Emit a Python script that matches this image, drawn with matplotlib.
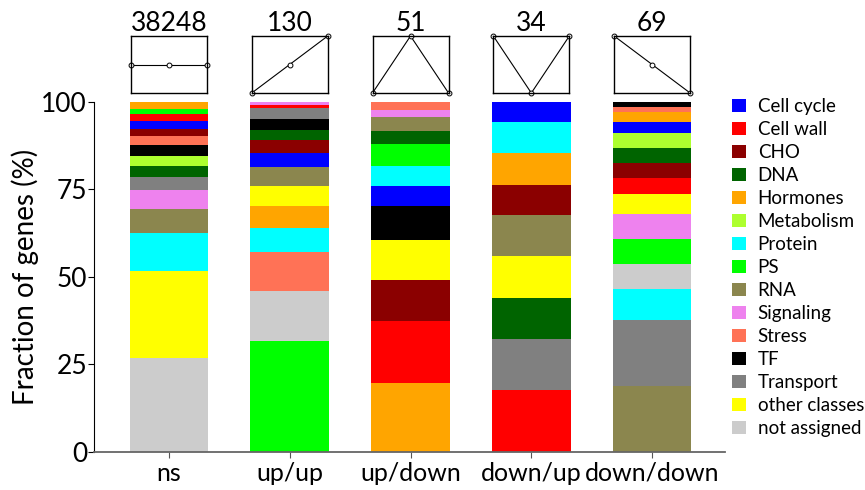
import numpy as np
import matplotlib
matplotlib.use("Agg")
import matplotlib.pyplot as plt
from matplotlib.patches import Patch

plt.rcParams['font.family'] = ['Lato', 'DejaVu Sans']

groups = ['ns', 'up/up', 'up/down', 'down/up', 'down/down']
counts = [38248, 130, 51, 34, 69]
# expression profile of each group (3 time points)
profiles = [[0.5, 0.5, 0.5], [0, 0.5, 1], [0, 1, 0], [1, 0, 1], [1, 0.5, 0]]

categories = ['Cell cycle', 'Cell wall', 'CHO', 'DNA', 'Hormones', 'Metabolism',
              'Protein', 'PS', 'RNA', 'Signaling', 'Stress', 'TF', 'Transport',
              'other classes', 'not assigned']
colors = ['#0000ff', '#ff0000', '#8b0000', '#006400', '#ffa500', '#adff2f',
          '#00ffff', '#00ff00', '#8b864e', '#ee82ee', '#ff7256', '#000000',
          '#808080', '#ffff00', '#cccccc']

# percent of genes, per group: ns, up/up, up/down, down/up, down/down
cell_cycle   = [2.3, 4.1, 5.7, 5.8, 3.1]
cell_wall    = [1.9, 0.6, 17.7, 17.6, 4.6]
cho          = [2.1, 3.6, 11.6, 8.6, 4.3]
dna          = [3.1, 3.1, 3.7, 11.8, 4.3]
hormones     = [2.1, 6.3, 19.7, 9.2, 2.9]
metabolism   = [2.9, 0, 0, 0, 4.3]
protein      = [10.9, 6.9, 5.7, 8.8, 9.0]
ps           = [1.4, 31.6, 6.3, 0, 7.2]
rna          = [6.8, 5.4, 4.0, 11.7, 18.8]
signaling    = [5.4, 1.0, 2.0, 0, 7.0]
stress       = [2.6, 11.1, 2.1, 0, 1.4]
tf           = [3.1, 2.9, 9.7, 0, 1.5]
transport    = [3.7, 3.4, 0, 14.6, 18.9]
other        = [25.0, 5.7, 11.7, 11.9, 5.7]
not_assigned = [26.8, 14.3, 0, 0, 7.0]

values = [cell_cycle, cell_wall, cho, dna, hormones, metabolism, protein, ps,
          rna, signaling, stress, tf, transport, other, not_assigned]

# stacking order (bottom -> top) in each bar
order = [
    ['not assigned', 'other classes', 'Protein', 'RNA', 'Signaling', 'Transport', 'DNA',
     'Metabolism', 'TF', 'Stress', 'CHO', 'Cell cycle', 'Cell wall', 'PS', 'Hormones'],
    ['PS', 'not assigned', 'Stress', 'Protein', 'Hormones', 'other classes', 'RNA',
     'Cell cycle', 'CHO', 'DNA', 'TF', 'Transport', 'Cell wall', 'Signaling'],
    ['Hormones', 'Cell wall', 'CHO', 'other classes', 'TF', 'Cell cycle', 'Protein',
     'PS', 'DNA', 'RNA', 'Signaling', 'Stress'],
    ['Cell wall', 'Transport', 'DNA', 'other classes', 'RNA', 'CHO', 'Hormones',
     'Protein', 'Cell cycle'],
    ['RNA', 'Transport', 'Protein', 'not assigned', 'PS', 'Signaling', 'other classes',
     'Cell wall', 'CHO', 'DNA', 'Metabolism', 'Cell cycle', 'Hormones', 'Stress', 'TF'],
]

fig = plt.figure(figsize=(8.65, 4.9), dpi=100)
ax = fig.add_axes([0.1087, 0.0776, 0.729, 0.7143])

x = np.arange(len(groups))
width = 0.65
for i in range(len(groups)):
    bottom = 0
    for name in order[i]:
        k = categories.index(name)
        v = values[k][i]
        ax.bar(x[i], v, width, bottom=bottom, color=colors[k], linewidth=0)
        bottom += v

ax.set_xlim(-0.62, 4.6)
ax.set_ylim(0, 100)
ax.set_yticks([0, 25, 50, 75, 100])
ax.set_xticks(x)
ax.set_xticklabels(groups)
ax.tick_params(axis='y', labelsize=19, length=4, direction='out', pad=1)
ax.tick_params(axis='x', labelsize=18, length=4, color='#555555', pad=3)
ax.set_ylabel('Fraction of genes (%)', fontsize=20, labelpad=2)
ax.spines['top'].set_visible(False)
ax.spines['right'].set_visible(False)
ax.spines['bottom'].set_color('#666666')
ax.spines['bottom'].set_linewidth(1.3)

# small profile boxes above each bar
fig.canvas.draw()
to_fig = ax.transData + fig.transFigure.inverted()
box_w = 76 / 865
box_h = 57 / 490
box_bottom = 1 - 93 / 490
for i in range(len(groups)):
    cx = to_fig.transform((x[i], 0))[0]
    bax = fig.add_axes([cx - box_w / 2, box_bottom, box_w, box_h])
    bax.plot([0, 0.5, 1], profiles[i], color='black', lw=0.8, marker='o',
             ms=3.5, mfc='white', mec='black', mew=0.7, clip_on=False)
    bax.set_xlim(0, 1)
    bax.set_ylim(0, 1)
    bax.set_xticks([])
    bax.set_yticks([])
    for s in bax.spines.values():
        s.set_linewidth(1.0)
    bax.set_title(str(counts[i]), fontsize=19, pad=0)

handles = [Patch(facecolor=c, edgecolor='none') for c in colors]
fig.legend(handles, categories, loc='upper left', bbox_to_anchor=(0.838, 0.815),
           frameon=False, fontsize=13.5, handlelength=0.75, handleheight=0.75,
           handletextpad=0.6, labelspacing=0.32, borderaxespad=0)

fig.savefig('out.png', dpi=100)
